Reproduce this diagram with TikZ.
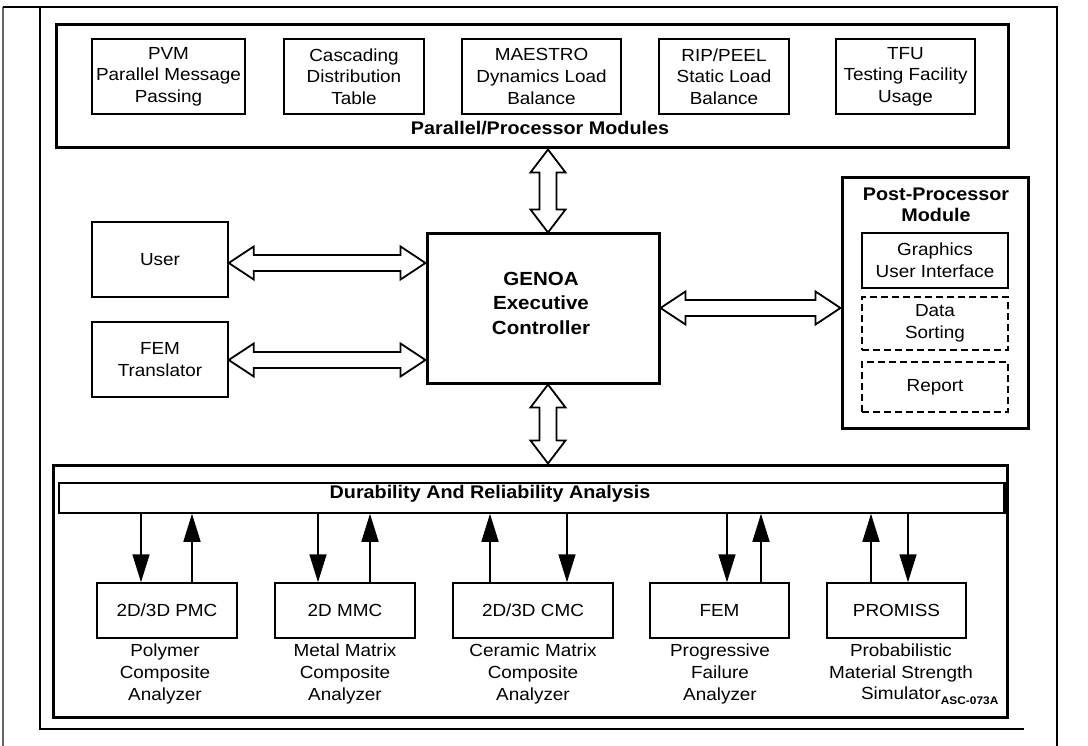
\documentclass[tikz,border=0pt]{standalone}
\usepackage{fontspec}
\setmainfont{Liberation Sans}[FakeStretch=1.08]
\usetikzlibrary{arrows.meta,calc}
\newcommand\vdarrow[2]{\path[hollow] let \p1=(#1), \p2=(#2) in
 (\x1,\y1) -- (\x1+17.5pt,\y1-23pt) -- (\x1+8.5pt,\y1-23pt) -- (\x1+8.5pt,\y2+23pt) -- (\x1+17.5pt,\y2+23pt)
 -- (\x1,\y2) -- (\x1-17.5pt,\y2+23pt) -- (\x1-8.5pt,\y2+23pt) -- (\x1-8.5pt,\y1-23pt) -- (\x1-17.5pt,\y1-23pt) -- cycle;}
\newcommand\hdarrow[2]{\path[hollow] let \p1=(#1), \p2=(#2) in
 (\x1,\y1) -- (\x1+25pt,\y1+16.5pt) -- (\x1+25pt,\y1+8pt) -- (\x2-25pt,\y1+8pt) -- (\x2-25pt,\y1+16.5pt)
 -- (\x2,\y1) -- (\x2-25pt,\y1-16.5pt) -- (\x2-25pt,\y1-8pt) -- (\x1+25pt,\y1-8pt) -- (\x1+25pt,\y1-16.5pt) -- cycle;}
\begin{document}
\begin{tikzpicture}[x=1pt,y=-1pt,
  thinbox/.style={draw, line width=1.5pt, inner sep=0pt},
  thickbox/.style={draw, line width=3pt, inner sep=0pt},
  dbox/.style={draw, line width=1.5pt, dash pattern=on 7pt off 4pt, inner sep=0pt},
  txt/.style={font=\fontsize{17.5}{21.7}\selectfont, align=center},
  ttl/.style={font=\fontsize{18.3}{21}\selectfont\bfseries, align=center},
  hollow/.style={draw, line width=1.8pt, fill=white, line join=miter},
  arr/.style={line width=1.6pt, -{Triangle[length=28pt,width=17pt]}},
  frame/.style={line width=1.3pt}]
\useasboundingbox (0,0) rectangle (1088,746);
% page frame
\draw[frame, black!60] (3,7) -- (3,746);
\draw[frame] (3,7) -- (1057,7) -- (1057,746);
\draw[frame] (40,7) -- (40,729) -- (1024,729);
% top modules
\node[thickbox, minimum width=952, minimum height=123] (par) at (532,86.5) {};
\node[thinbox, txt, minimum width=153, minimum height=75] (pvm) at (168.5,76.5) {PVM\\Parallel Message\\Passing};
\node[thinbox, txt, minimum width=140, minimum height=75] (cdt) at (354,76.5) {Cascading\\Distribution\\Table};
\node[thinbox, txt, minimum width=159, minimum height=75] (mae) at (541.5,76.5) {MAESTRO\\Dynamics Load\\Balance};
\node[thinbox, txt, minimum width=130, minimum height=75] (rip) at (724,76.5) {RIP/PEEL\\Static Load\\Balance};
\node[thinbox, txt, minimum width=139, minimum height=75] (tfu) at (905.5,76.5) {TFU\\Testing Facility\\Usage};
\node[ttl] (partl) at (540,128) {Parallel/Processor Modules};
% middle
\node[thinbox, txt, minimum width=136, minimum height=75] (user) at (160,259.5) {User};
\node[thinbox, txt, minimum width=136, minimum height=75] (fem) at (160,359.5) {FEM\\Translator};
\node[thickbox, minimum width=232, minimum height=149] (genoa) at (543,308.5) {};
\node[font=\fontsize{19}{24.5}\selectfont\bfseries, align=center] (genoat) at (541,303) {GENOA\\Executive\\Controller};
% post processor
\node[thickbox, minimum width=186, minimum height=250] (post) at (935,303) {};
\node[ttl] (postt) at (936,205) {Post-Processor\\Module};
\node[thinbox, txt, minimum width=146, minimum height=55] (gui) at (935,260.5) {Graphics\\User Interface};
\node[dbox, txt, minimum width=146, minimum height=53] (sort) at (935,323.5) {Data\\Sorting};
\node[dbox, txt, minimum width=146, minimum height=50] (rep) at (935,387) {Report};
% bottom
\node[thickbox, minimum width=954, minimum height=252] (bot) at (530,591) {};
\node[thinbox, minimum width=945, minimum height=30] (bar) at (531.5,498) {};
\draw[line width=3pt] (bar.north east) -- (bar.south east);
\node[ttl] (bart) at (490,494) {Durability And Reliability Analysis};
\node[thinbox, txt, minimum width=140, minimum height=55] (pmc) at (167,610.5) {2D/3D PMC};
\node[thinbox, txt, minimum width=140, minimum height=55] (mmc) at (345,610.5) {2D MMC};
\node[thinbox, txt, minimum width=160, minimum height=55] (cmc) at (533,610.5) {2D/3D CMC};
\node[thinbox, txt, minimum width=139, minimum height=55] (femb) at (719.5,610.5) {FEM};
\node[thinbox, txt, minimum width=139, minimum height=55] (pro) at (896.5,610.5) {PROMISS};
\node[txt] (pmcl) at (165,674) {Polymer\\Composite\\Analyzer};
\node[txt] (mmcl) at (345,674) {Metal Matrix\\Composite\\Analyzer};
\node[txt] (cmcl) at (533,674) {Ceramic Matrix\\Composite\\Analyzer};
\node[txt] (feml) at (720,674) {Progressive\\Failure\\Analyzer};
\node[txt] (prol) at (901,674) {Probabilistic\\Material Strength\\Simulator\rlap{\raisebox{-4.5pt}{\fontsize{11}{11}\selectfont\bfseries ASC-073A}}};
% hollow double arrows
\coordinate (vx) at (548,0);
\coordinate (uy) at (0,263);
\coordinate (fy) at (0,360);
\coordinate (ry) at (0,308);
\vdarrow{vx |- par.south}{vx |- genoa.north}
\vdarrow{vx |- genoa.south}{vx |- bot.north}
\hdarrow{user.east |- uy}{genoa.west |- uy}
\hdarrow{fem.east |- fy}{genoa.west |- fy}
\hdarrow{genoa.east |- ry}{post.west |- ry}
% analysis arrows
\coordinate (a1) at ($(pmc.north)+(-26,0)$);
\coordinate (a2) at ($(pmc.north)+(25,0)$);
\coordinate (a3) at ($(mmc.north)+(-27,0)$);
\coordinate (a4) at ($(mmc.north)+(25,0)$);
\coordinate (a5) at ($(cmc.north)+(-43,0)$);
\coordinate (a6) at ($(cmc.north)+(34,0)$);
\coordinate (a7) at ($(femb.north)+(7.5,0)$);
\coordinate (a8) at ($(femb.north)+(41.5,0)$);
\coordinate (a9) at ($(pro.north)+(-25.5,0)$);
\coordinate (a10) at ($(pro.north)+(11.5,0)$);
\draw[arr] (a1 |- bar.south) -- (a1);
\draw[arr] (a2) -- (a2 |- bar.south);
\draw[arr] (a3 |- bar.south) -- (a3);
\draw[arr] (a4) -- (a4 |- bar.south);
\draw[arr] (a5) -- (a5 |- bar.south);
\draw[arr] (a6 |- bar.south) -- (a6);
\draw[arr] (a7 |- bar.south) -- (a7);
\draw[arr] (a8) -- (a8 |- bar.south);
\draw[arr] (a9) -- (a9 |- bar.south);
\draw[arr] (a10 |- bar.south) -- (a10);
\end{tikzpicture}
\end{document}
